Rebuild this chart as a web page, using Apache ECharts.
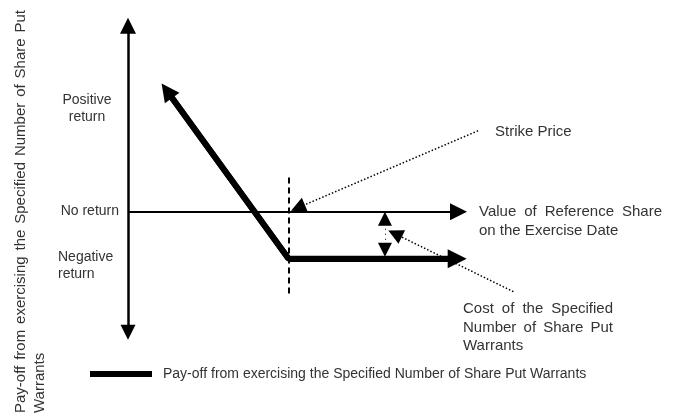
<!DOCTYPE html>
<html>
<head>
<meta charset="utf-8">
<script src="https://cdn.jsdelivr.net/npm/echarts@6/dist/echarts.min.js"></script>
<style>
  html, body { margin: 0; padding: 0; background: #fff; }
  #chart { width: 678px; height: 414px; }
</style>
</head>
<body>
<div id="chart"></div>
<script>
// conceptual units: x = value of reference share, y = pay-off
// (line ends sit at the centre of their arrow heads)
const strike = 10
const payoffX = [2.42, 10, 20.5]
const payoffY = [5.14, -2, -2]
const valueAxisX = [0, 20.58]      // "no return" line
const payoffAxisY = [-5.12, 7.91]  // vertical axis
const strikeMarkY = [1.45, -3.55]
const costX = 16
const costY = [-0.3, -1.62]
const strikePointer = [[21.8, 3.44], [10.58, 0.17]]
const costPointer = [[24.0, -3.4], [16.63, -0.94]]

const legendName = 'Pay-off from exercising the Specified Number of Share Put Warrants'
const yTitle = ['Pay-off from exercising the Specified Number of Share Put', 'Warrants']

const family = '"Liberation Sans", Arial, sans-serif'
const font = '14px ' + family
const bigFont = '15px ' + family
const txt = '#333'

function seg(x1, y1, x2, y2) {
  return [{ coords: [[x1, y1], [x2, y2]] }]
}

function label(text, x, y, align, extra, f) {
  return Object.assign({ type: 'text', x: x, y: y, style: { text: text, font: f || font, fill: txt, align: align || 'left', verticalAlign: 'middle', lineHeight: 17 } }, extra || {})
}

// spread the words of a line over a given width (justified paragraph look)
const ctx = document.createElement('canvas').getContext('2d')
function justified(text, x, y, width, rotated, f) {
  ctx.font = f || font
  const words = text.split(' ')
  const widths = words.map(w => ctx.measureText(w).width)
  const total = widths.reduce((a, b) => a + b, 0)
  const gap = (width - total) / (words.length - 1)
  let s = 0
  return words.map((w, i) => {
    const el = rotated
      ? label(w, x, y - s, 'left', { rotation: Math.PI / 2 }, f)
      : label(w, x + s, y, 'left', null, f)
    s += widths[i] + gap
    return el
  })
}

const lineBase = { type: 'lines', coordinateSystem: 'cartesian2d', silent: true, clip: false }

const chart = echarts.init(document.getElementById('chart'))
const option = {
  animation: false,
  grid: { left: 128, right: 0, top: 0, bottom: 0 },
  xAxis: { type: 'value', min: 0, max: 34.25, show: false },
  yAxis: { type: 'value', min: -8.6, max: 9, show: false },
  legend: {
    left: 85,
    top: 362,
    data: [{ name: legendName, icon: 'rect', itemStyle: { color: '#000' } }],
    itemWidth: 62,
    itemHeight: 6,
    textStyle: { fontFamily: family, fontSize: 14, color: txt, padding: [0, 0, 0, 6] }
  },
  series: [
    Object.assign({}, lineBase, {
      // vertical axis
      symbol: ['triangle', 'triangle'], symbolSize: [15, 16],
      lineStyle: { color: '#000', width: 2.5, opacity: 1 },
      data: seg(0, payoffAxisY[0], 0, payoffAxisY[1])
    }),
    Object.assign({}, lineBase, {
      // no return line
      symbol: ['none', 'triangle'], symbolSize: [17, 17],
      lineStyle: { color: '#000', width: 2, opacity: 1 },
      data: seg(valueAxisX[0], 0, valueAxisX[1], 0)
    }),
    Object.assign({}, lineBase, {
      // strike marker
      symbol: 'none',
      lineStyle: { color: '#000', width: 2, type: [6, 4], opacity: 1 },
      data: seg(strike, strikeMarkY[0], strike, strikeMarkY[1])
    }),
    Object.assign({}, lineBase, {
      // cost double arrow
      symbol: ['triangle', 'triangle'], symbolSize: [14, 14],
      lineStyle: { color: '#000', width: 1, type: [1, 4], opacity: 1 },
      data: seg(costX, costY[0], costX, costY[1])
    }),
    Object.assign({}, lineBase, {
      symbol: ['none', 'triangle'], symbolSize: [13, 15],
      lineStyle: { color: '#000', width: 1.5, type: [1.5, 2], opacity: 1 },
      data: [{ coords: strikePointer }]
    }),
    Object.assign({}, lineBase, {
      symbol: ['none', 'triangle'], symbolSize: [13, 15],
      lineStyle: { color: '#000', width: 1.5, type: [1.5, 2], opacity: 1 },
      data: [{ coords: costPointer }]
    }),
    {
      // pay-off
      name: legendName,
      type: 'line', silent: true, clip: false,
      showSymbol: false,
      lineStyle: { color: '#000', width: 6 },
      itemStyle: { color: '#000' },
      data: payoffX.map((x, i) => [x, payoffY[i]])
    },
    Object.assign({}, lineBase, {
      name: legendName,
      symbol: ['triangle', 'none'], symbolSize: [18, 20],
      lineStyle: { color: '#000', width: 6, opacity: 1 },
      data: seg(payoffX[0], payoffY[0], payoffX[1], payoffY[1])
    }),
    Object.assign({}, lineBase, {
      name: legendName,
      symbol: ['none', 'triangle'], symbolSize: [20, 19],
      lineStyle: { color: '#000', width: 6, opacity: 1 },
      data: seg(payoffX[1], payoffY[1], payoffX[2], payoffY[2])
    })
  ],
  graphic: [
    label('Positive\nreturn', 87, 108.5, 'center'),
    label('No return', 119, 211, 'right'),
    label('Negative\nreturn', 58, 265.5, 'left'),
    label('Strike Price', 495, 132, 'left', null, bigFont)
  ]
    .concat(justified('Value of Reference Share', 479, 212, 183, false, bigFont))
    .concat([label('on the Exercise Date', 479, 231, 'left', null, bigFont)])
    .concat(justified('Cost of the Specified', 463, 309, 150, false, bigFont))
    .concat(justified('Number of Share Put', 463, 328, 150, false, bigFont))
    .concat([label('Warrants', 463, 346, 'left', null, bigFont)])
    .concat(justified(yTitle[0], 21, 413, 403, true, bigFont))
    .concat([label(yTitle[1], 40, 413, 'left', { rotation: Math.PI / 2 }, bigFont)])
}
chart.setOption(option)
</script>
</body>
</html>
